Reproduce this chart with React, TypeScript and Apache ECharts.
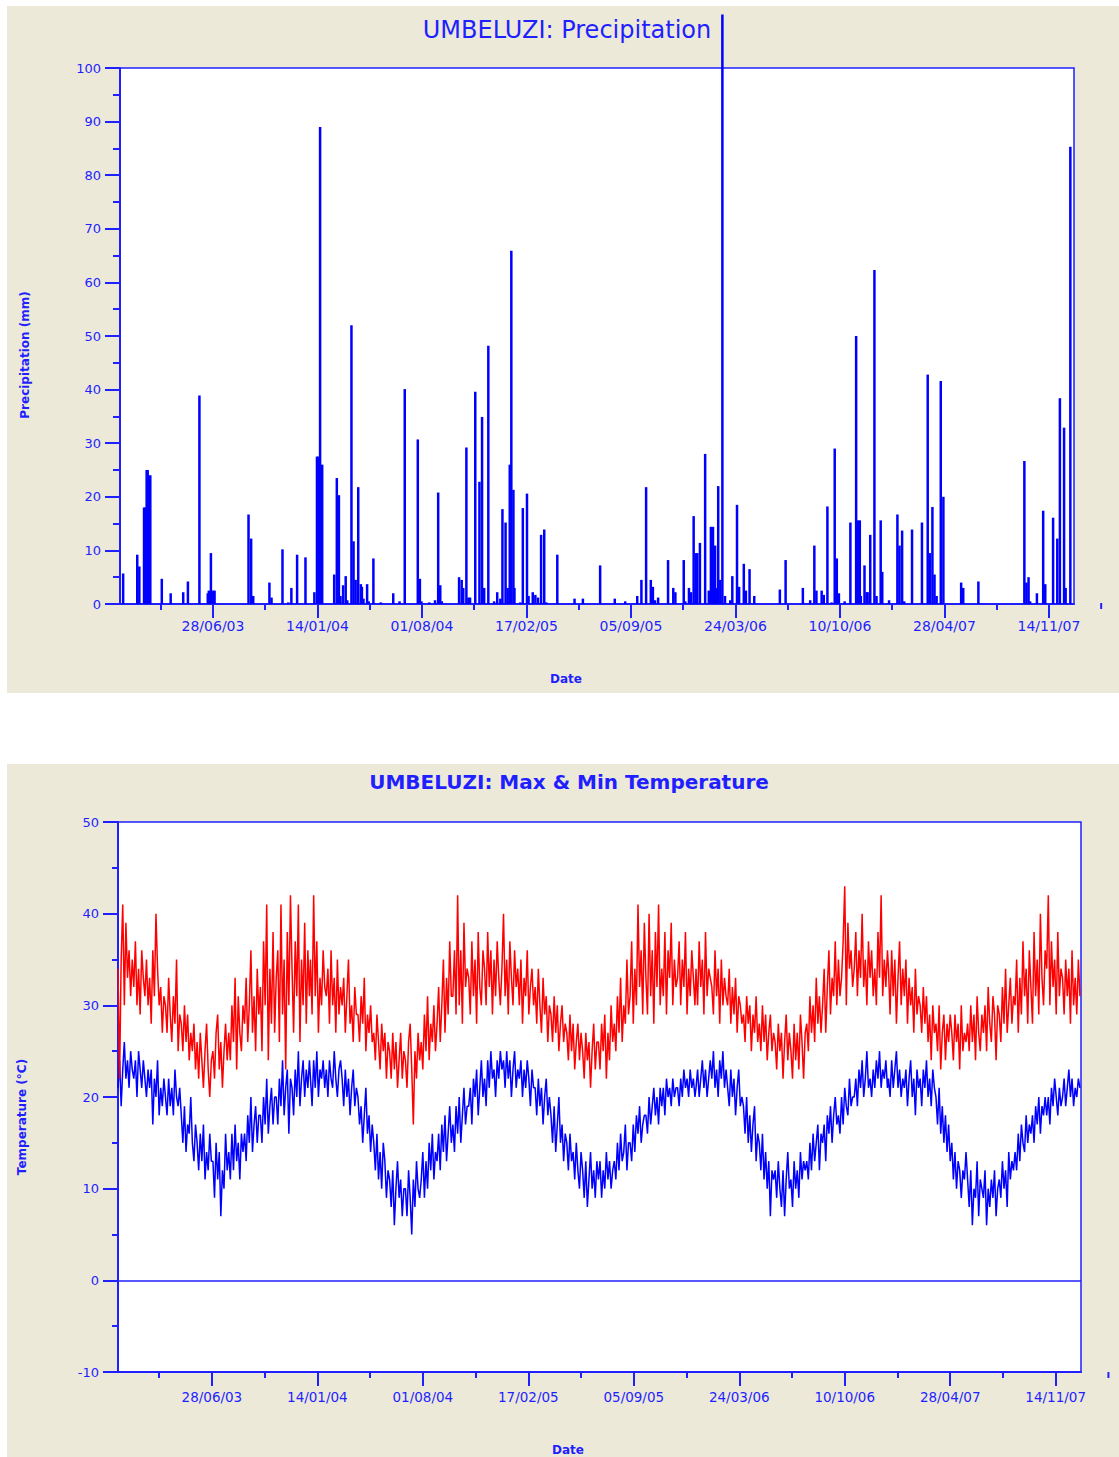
import React, { useEffect, useRef } from "react";
import * as echarts from "echarts";

const BLUE = "#1f1fff";
const FONT = "DejaVu Sans";

// x axis: day number counted from 01/01/2003
const xMin = 0;
const xMax = 1826;
const tickDays = [178, 378, 578, 778, 978, 1178, 1378, 1578, 1778];
const tickLabels = ["28/06/03", "14/01/04", "01/08/04", "17/02/05", "05/09/05", "24/03/06", "10/10/06", "28/04/07", "14/11/07"];
const minorDays = [78, 278, 478, 678, 878, 1078, 1278, 1478, 1678];
const strayTickDay = 1878;

// Precipitation (mm): day number and amount
const rainDay = [6, 33, 37, 46, 48, 51, 53, 56, 58, 80, 97, 121, 130, 152, 168, 170, 174, 178, 181, 246, 251, 255, 286, 290, 311, 322, 328, 339, 355, 372, 377, 379, 383, 387, 410, 415, 419, 422, 427, 432, 435, 443, 447, 451, 456, 461, 463, 466, 473, 476, 485, 499, 523, 535, 545, 570, 574, 577, 592, 603, 609, 613, 616, 649, 654, 657, 663, 667, 670, 680, 688, 693, 697, 705, 716, 722, 728, 732, 738, 742, 746, 749, 753, 755, 766, 771, 779, 782, 790, 795, 800, 806, 812, 816, 837, 870, 886, 919, 947, 967, 990, 998, 1007, 1016, 1020, 1024, 1030, 1049, 1059, 1063, 1079, 1082, 1089, 1093, 1098, 1102, 1105, 1110, 1120, 1127, 1131, 1135, 1139, 1141, 1145, 1149, 1153, 1158, 1168, 1172, 1181, 1185, 1194, 1198, 1205, 1214, 1263, 1274, 1307, 1321, 1329, 1333, 1343, 1347, 1354, 1362, 1368, 1372, 1376, 1387, 1398, 1409, 1413, 1416, 1418, 1425, 1429, 1431, 1436, 1444, 1448, 1456, 1459, 1472, 1488, 1492, 1497, 1501, 1516, 1535, 1546, 1550, 1555, 1559, 1563, 1571, 1576, 1610, 1614, 1643, 1731, 1735, 1739, 1742, 1755, 1767, 1771, 1786, 1794, 1799, 1807, 1810, 1819];
const rainMm = [5.7, 9.2, 7.0, 18, 18, 25, 25, 24, 24, 4.7, 2.0, 2.2, 4.2, 38.9, 2.0, 2.5, 9.5, 2.5, 2.5, 16.7, 12.2, 1.5, 4.0, 1.2, 10.2, 0.3, 3.0, 9.2, 8.7, 2.2, 27.5, 27.5, 89, 26, 5.5, 23.5, 20.3, 1.5, 3.5, 5.2, 0.7, 52, 11.7, 4.5, 21.8, 3.7, 3.2, 1.0, 3.7, 0.5, 8.5, 0.3, 2.0, 0.5, 40.1, 30.7, 4.7, 0.5, 0.3, 0.7, 20.8, 3.5, 0.5, 5.0, 4.5, 3.0, 29.2, 1.2, 1.2, 39.6, 22.8, 34.9, 3.0, 48.2, 0.5, 2.2, 1.0, 17.7, 15.2, 3.0, 26.0, 65.9, 21.3, 3.0, 0.3, 17.9, 20.6, 1.5, 2.2, 1.7, 1.2, 12.9, 13.9, 0.3, 9.2, 1.0, 1.0, 7.2, 1.0, 0.5, 1.5, 4.5, 21.8, 4.5, 3.2, 0.7, 1.2, 8.2, 3.0, 2.2, 8.2, 0.5, 3.0, 2.2, 16.4, 9.5, 9.5, 11.4, 28.0, 2.5, 14.4, 14.4, 10.9, 3.0, 22.0, 4.5, 110, 1.5, 0.7, 5.2, 18.5, 3.2, 7.5, 2.5, 6.5, 1.5, 2.7, 8.2, 3.0, 0.7, 10.9, 2.5, 2.5, 1.7, 18.2, 0.3, 29.0, 8.5, 2.0, 0.5, 15.2, 50, 15.6, 15.6, 1.5, 7.2, 2.2, 2.2, 12.9, 62.3, 1.5, 15.6, 6.0, 0.7, 16.7, 10.9, 13.7, 0.5, 13.9, 15.2, 42.8, 9.5, 18.1, 5.5, 1.5, 41.6, 20.0, 4.0, 3.0, 4.2, 26.7, 4.0, 5.0, 0.5, 2.0, 17.4, 3.7, 16.1, 12.2, 38.4, 32.9, 3.0, 85.3];

// Temperature: one reading every 3 days from each year's first day
const tempStep = 3;
const yearStart = [0, 365, 731, 1096, 1461];

const tmax2003 = [34, 22, 35, 41, 30, 39, 33, 36, 31, 35, 32, 37, 30, 34, 29, 36, 33, 31, 35, 30, 33, 28, 36, 31, 40, 34, 30, 32, 27, 31, 30, 27, 33, 29, 26, 31, 28, 35, 25, 29, 28, 25, 30, 26, 29, 24, 27, 25, 28, 23, 26, 22, 27, 24, 21, 25, 28, 23, 20, 24, 25, 22, 27, 29, 23, 26, 21, 25, 28, 24, 27, 24, 30, 26, 33, 23, 31, 27, 25, 30, 28, 33, 26, 30, 36, 27, 31, 25, 34, 29, 32, 25, 37, 30, 41, 24, 34, 28, 38, 27, 33, 36, 26, 41, 29, 35, 23, 38, 30, 42, 34, 27, 37, 31, 41, 26, 35, 30, 39, 28, 36, 31];
const tmax2004 = [35, 29, 42, 31, 37, 27, 33, 30, 36, 32, 31, 34, 28, 36, 30, 33, 27, 35, 29, 32, 30, 33, 27, 31, 35, 28, 30, 26, 32, 29, 29, 26, 31, 28, 33, 25, 29, 27, 30, 26, 27, 24, 29, 26, 23, 28, 25, 27, 22, 26, 25, 22, 27, 23, 26, 21, 24, 27, 22, 25, 24, 21, 26, 28, 23, 17, 25, 22, 27, 24, 26, 23, 29, 25, 31, 24, 28, 26, 30, 25, 28, 32, 26, 30, 35, 27, 33, 29, 37, 31, 31, 36, 29, 42, 30, 36, 28, 39, 32, 34, 33, 29, 37, 31, 35, 28, 38, 32, 30, 36, 34, 30, 38, 32, 36, 29, 35, 31, 37, 33, 30, 34];
const tmax2005 = [40, 31, 35, 29, 37, 33, 30, 36, 32, 34, 30, 35, 28, 33, 31, 36, 29, 32, 34, 30, 32, 28, 34, 30, 27, 33, 29, 31, 26, 30, 29, 26, 31, 27, 30, 25, 28, 30, 26, 28, 27, 24, 29, 25, 28, 23, 26, 28, 24, 27, 25, 22, 27, 24, 26, 21, 25, 28, 23, 26, 26, 23, 28, 25, 29, 22, 27, 24, 30, 26, 28, 25, 31, 27, 33, 26, 30, 28, 35, 29, 31, 37, 28, 34, 30, 41, 32, 36, 29, 39, 33, 29, 40, 31, 36, 28, 38, 32, 41, 30, 34, 31, 38, 29, 36, 33, 39, 30, 35, 32, 33, 37, 30, 35, 32, 38, 29, 34, 31, 36, 33, 30];
const tmax2006 = [34, 30, 37, 32, 35, 29, 38, 31, 34, 33, 32, 29, 36, 31, 34, 28, 35, 30, 33, 31, 30, 34, 28, 32, 29, 33, 27, 31, 30, 28, 29, 26, 31, 28, 30, 25, 29, 27, 31, 26, 28, 25, 30, 26, 29, 24, 27, 29, 25, 27, 26, 23, 28, 25, 27, 22, 26, 29, 24, 27, 25, 22, 28, 24, 27, 23, 29, 26, 22, 27, 28, 25, 31, 27, 30, 26, 33, 28, 31, 27, 30, 34, 27, 32, 36, 29, 33, 31, 37, 30, 35, 31, 33, 37, 43, 30, 39, 34, 36, 32, 34, 38, 31, 36, 33, 40, 32, 35, 30, 37, 33, 36, 31, 34, 30, 38, 33, 42, 31, 35, 32, 36];
const tmax2007 = [34, 29, 36, 31, 35, 28, 33, 37, 30, 34, 31, 35, 28, 33, 30, 32, 27, 34, 29, 31, 30, 27, 32, 28, 31, 26, 29, 24, 30, 27, 28, 25, 30, 23, 27, 29, 24, 28, 26, 29, 27, 24, 29, 26, 28, 23, 30, 25, 27, 26, 28, 25, 30, 26, 29, 24, 31, 27, 25, 29, 27, 30, 25, 32, 28, 26, 31, 29, 24, 30, 29, 26, 32, 28, 34, 27, 30, 33, 28, 31, 30, 35, 27, 33, 29, 37, 31, 34, 28, 36, 32, 28, 38, 31, 35, 29, 40, 33, 30, 36, 34, 42, 30, 37, 32, 35, 29, 38, 31, 34, 33, 29, 35, 31, 34, 28, 36, 30, 33, 29, 35, 31];

const tmin2003 = [21, 24, 19, 23, 26, 22, 24, 21, 25, 23, 22, 24, 20, 25, 23, 21, 24, 22, 20, 23, 21, 23, 17, 22, 20, 24, 18, 21, 19, 22, 20, 18, 22, 19, 21, 18, 23, 20, 19, 21, 18, 15, 19, 14, 17, 16, 20, 15, 13, 17, 15, 12, 16, 13, 17, 11, 14, 12, 16, 13, 13, 9, 15, 11, 14, 7, 12, 10, 16, 12, 14, 11, 16, 12, 17, 13, 15, 11, 16, 14, 16, 13, 18, 15, 20, 14, 17, 19, 15, 18, 18, 15, 20, 17, 22, 16, 19, 21, 17, 20, 20, 17, 22, 19, 24, 18, 21, 23, 16, 22, 21, 18, 23, 20, 25, 19, 22, 24, 20, 23, 21, 24];
const tmin2004 = [22, 19, 24, 21, 25, 20, 23, 22, 24, 21, 23, 20, 24, 22, 21, 25, 22, 20, 23, 24, 22, 19, 23, 20, 22, 18, 21, 23, 19, 21, 20, 17, 19, 15, 18, 21, 16, 18, 14, 17, 15, 12, 16, 11, 14, 10, 15, 13, 9, 12, 11, 8, 12, 6, 10, 13, 9, 11, 7, 10, 10, 7, 12, 9, 5, 11, 8, 13, 10, 9, 11, 14, 9, 13, 10, 15, 12, 16, 11, 14, 13, 16, 12, 17, 14, 18, 13, 16, 19, 15, 17, 14, 19, 16, 20, 15, 18, 21, 17, 19, 19, 21, 17, 22, 20, 23, 18, 21, 24, 20, 22, 19, 24, 21, 25, 22, 23, 20, 24, 22, 25, 23];
const tmin2005 = [24, 21, 25, 22, 24, 20, 23, 25, 21, 23, 22, 24, 20, 23, 21, 24, 22, 19, 23, 21, 21, 18, 22, 19, 21, 17, 20, 22, 18, 20, 18, 15, 19, 14, 17, 20, 15, 17, 13, 16, 15, 12, 16, 13, 14, 11, 15, 12, 10, 14, 12, 9, 13, 8, 11, 14, 10, 12, 9, 13, 11, 13, 9, 12, 10, 14, 11, 13, 10, 12, 13, 11, 15, 12, 16, 13, 14, 17, 12, 15, 15, 13, 17, 14, 18, 16, 19, 15, 17, 18, 18, 16, 20, 17, 19, 21, 18, 20, 17, 21, 19, 21, 18, 22, 20, 21, 19, 22, 20, 21, 21, 19, 22, 20, 23, 21, 22, 20, 23, 21, 22, 20];
const tmin2006 = [21, 23, 20, 22, 24, 21, 23, 20, 22, 24, 22, 25, 21, 23, 20, 24, 22, 25, 21, 23, 21, 19, 23, 20, 22, 18, 21, 23, 19, 20, 19, 16, 20, 15, 18, 14, 17, 19, 13, 16, 15, 12, 16, 11, 14, 10, 13, 7, 12, 11, 12, 9, 13, 10, 8, 12, 7, 11, 14, 10, 11, 8, 13, 10, 12, 9, 14, 11, 13, 12, 13, 11, 15, 12, 16, 13, 15, 17, 12, 16, 15, 17, 13, 18, 16, 19, 15, 18, 20, 17, 18, 16, 20, 17, 21, 19, 18, 22, 19, 20, 20, 22, 19, 23, 21, 24, 20, 22, 25, 21, 22, 20, 23, 21, 24, 22, 25, 21, 23, 22, 24, 21];
const tmin2007 = [22, 20, 24, 21, 23, 25, 21, 23, 20, 22, 21, 23, 19, 22, 24, 20, 22, 18, 23, 21, 22, 19, 23, 21, 24, 20, 22, 19, 23, 21, 20, 17, 21, 16, 19, 15, 18, 14, 17, 13, 15, 11, 14, 10, 13, 12, 9, 12, 11, 14, 11, 8, 12, 6, 10, 9, 13, 7, 11, 10, 9, 12, 6, 10, 8, 11, 9, 12, 7, 10, 11, 9, 13, 10, 12, 8, 14, 11, 13, 12, 14, 12, 16, 13, 17, 15, 14, 18, 15, 17, 16, 18, 15, 19, 17, 20, 16, 19, 18, 20, 18, 20, 17, 21, 19, 22, 20, 18, 21, 19, 20, 22, 19, 21, 23, 20, 22, 19, 21, 20, 22, 21];

const tmaxYears = [tmax2003, tmax2004, tmax2005, tmax2006, tmax2007];
const tminYears = [tmin2003, tmin2004, tmin2005, tmin2006, tmin2007];

function toSeries(years: number[][]) {
  const out: number[][] = [];
  years.forEach((arr, yi) => {
    arr.forEach((v, i) => out.push([yearStart[yi] + i * tempStep, v]));
  });
  return out;
}

const fmtTick = (v: number) => {
  const i = tickDays.indexOf(Math.round(v));
  return i >= 0 ? tickLabels[i] : "";
};

function xAxes(gridIndex: number, labelSize: number, labelMargin: number) {
  return [
    {
      type: "value",
      gridIndex,
      min: xMin,
      max: xMax,
      position: "bottom",
      axisLine: { show: true, onZero: false, lineStyle: { color: BLUE, width: 2 } },
      axisTick: { show: true, customValues: tickDays, length: 14, lineStyle: { color: BLUE, width: 2 } },
      axisLabel: { show: true, customValues: tickDays, formatter: fmtTick, color: BLUE, fontFamily: FONT, fontSize: labelSize, margin: labelMargin },
      splitLine: { show: false },
    },
    {
      type: "value",
      gridIndex,
      min: xMin,
      max: xMax,
      position: "bottom",
      axisLine: { show: false, onZero: false },
      axisTick: { show: true, customValues: minorDays, length: 6, lineStyle: { color: BLUE, width: 2 } },
      axisLabel: { show: false },
      splitLine: { show: false },
    },
  ];
}

const txt = (text: string, x: number, y: number, size: number, weight: string, rotation = 0) => ({
  type: "text",
  x,
  y,
  rotation,
  style: { text, fill: BLUE, fontFamily: FONT, fontSize: size, fontWeight: weight, textAlign: "center", textVerticalAlign: "middle" },
});

export default function App() {
  const ref = useRef<HTMLDivElement>(null);
  useEffect(() => {
    if (!ref.current) return;
    const chart = echarts.init(ref.current, null, { renderer: "svg" });
    const texts = [
      txt("UMBELUZI: Precipitation", 567, 30, 24, "normal"),
      txt("UMBELUZI: Max & Min Temperature", 569, 782, 20, "bold"),
      txt("Precipitation (mm)", 25, 355, 12, "bold", Math.PI / 2),
      txt("Date", 566, 679, 12, "bold"),
      txt("Temperature (°C)", 22, 1117, 12, "bold", Math.PI / 2),
      txt("Date", 568, 1450, 12, "bold"),
    ];
    const option: any = {
      animation: false,
      graphic: texts,
      grid: [
        { left: 120, top: 68, width: 954, height: 536, show: true, backgroundColor: "#ffffff", borderColor: BLUE, borderWidth: 1.5 },
        { left: 118, top: 822, width: 963, height: 550, show: true, backgroundColor: "#ffffff", borderColor: BLUE, borderWidth: 1.5 },
      ],
      xAxis: [...xAxes(0, 14, 15), ...xAxes(1, 13.5, 18)],
      yAxis: [
        {
          type: "value", gridIndex: 0, min: 0, max: 100, interval: 10,
          axisLine: { show: true, lineStyle: { color: BLUE, width: 2 } },
          axisTick: { show: true, length: 15, lineStyle: { color: BLUE, width: 2 } },
          minorTick: { show: true, splitNumber: 2, length: 7, lineStyle: { color: BLUE, width: 2 } },
          axisLabel: { color: BLUE, fontFamily: FONT, fontSize: 13, margin: 19 },
          splitLine: { show: false },
        },
        {
          type: "value", gridIndex: 1, min: -10, max: 50, interval: 10,
          axisLine: { show: true, onZero: false, lineStyle: { color: BLUE, width: 2 } },
          axisTick: { show: true, length: 15, lineStyle: { color: BLUE, width: 2 } },
          minorTick: { show: true, splitNumber: 2, length: 6, lineStyle: { color: BLUE, width: 2 } },
          axisLabel: { color: BLUE, fontFamily: FONT, fontSize: 13, margin: 19 },
          splitLine: { show: false },
        },
      ],
      series: [
        {
          name: "Precipitation",
          type: "bar",
          xAxisIndex: 0,
          yAxisIndex: 0,
          data: rainDay.map((d, i) => [d, rainMm[i]]),
          barWidth: 2.5,
          clip: false,
          itemStyle: { color: "#0000ff" },
        },
        {
          name: "Min",
          type: "line",
          xAxisIndex: 2,
          yAxisIndex: 1,
          data: toSeries(tminYears),
          symbol: "none",
          lineStyle: { color: "#0000ff", width: 1.5 },
          markLine: {
            silent: true,
            symbol: ["none", "none"],
            label: { show: false },
            lineStyle: { color: BLUE, width: 1.5, type: "solid" },
            data: [{ yAxis: 0 }],
          },
        },
        {
          name: "Max",
          type: "line",
          xAxisIndex: 2,
          yAxisIndex: 1,
          data: toSeries(tmaxYears),
          symbol: "none",
          lineStyle: { color: "#ff0000", width: 1.5 },
        },
      ],
    };
    chart.setOption(option);
    const p0 = chart.convertToPixel({ xAxisIndex: 0 }, strayTickDay) as number;
    const p1 = chart.convertToPixel({ xAxisIndex: 2 }, strayTickDay) as number;
    chart.setOption({
      graphic: [
        ...texts,
        { type: "line", shape: { x1: p0, y1: 603, x2: p0, y2: 609 }, style: { stroke: BLUE, lineWidth: 2 } },
        { type: "line", shape: { x1: p1, y1: 1372, x2: p1, y2: 1378 }, style: { stroke: BLUE, lineWidth: 2 } },
      ],
    });
    return () => chart.dispose();
  }, []);
  return (
    <div style={{ position: "absolute", left: 0, top: 0, width: 1119, height: 1457, background: "#ffffff" }}>
      <div style={{ position: "absolute", left: 7, top: 6, width: 1112, height: 687, background: "#ECE9D8" }} />
      <div style={{ position: "absolute", left: 7, top: 764, width: 1112, height: 693, background: "#ECE9D8" }} />
      <div ref={ref} style={{ position: "absolute", left: 0, top: 0, width: 1119, height: 1457 }} />
    </div>
  );
}
